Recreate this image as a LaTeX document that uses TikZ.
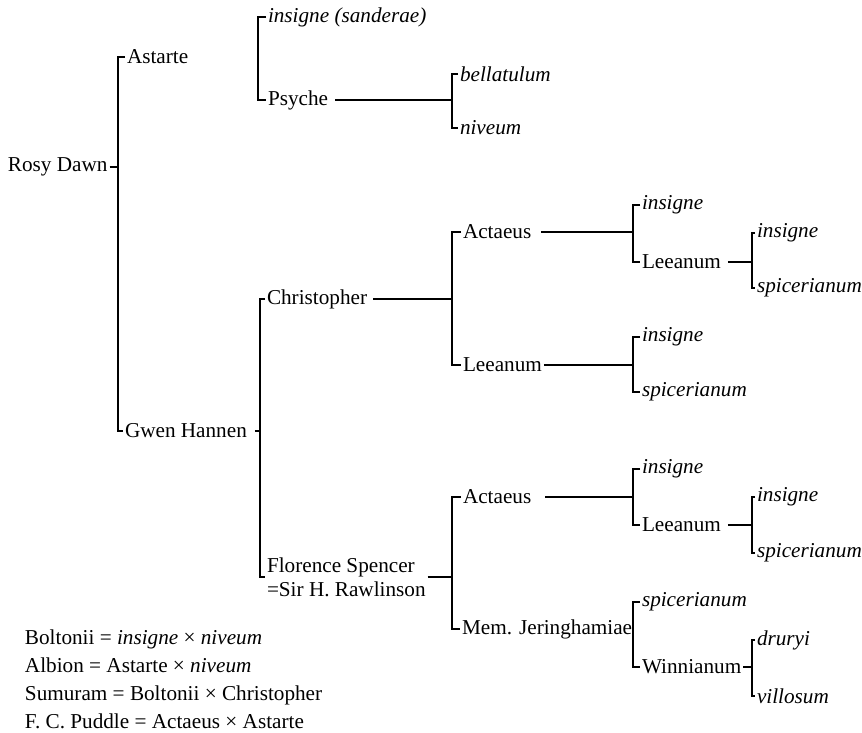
\documentclass[tikz,border=0pt]{standalone}
\usepackage{fontspec}
\setmainfont{Liberation Serif}
\begin{document}
\begin{tikzpicture}[x=0.5pt, y=-0.5pt, line width=0.8pt,
	every node/.style={anchor=west, inner sep=1pt, outer sep=0pt, font=\fontsize{10.6}{12}\selectfont},
	species/.style={font=\fontsize{10.6}{12}\selectfont\itshape}]
				\useasboundingbox (0,0) rectangle (862,733);
				% \draw[help lines, step=50] (0,0) grid (862,733);

				\node (rosy) at (6,167) {Rosy Dawn};
				\node (astarte) at (125,57) {Astarte};
				\node (gwen) at (123,431) {Gwen Hannen};
				\coordinate (jRosy) at (118,167);
				\draw (astarte.west) -| (jRosy) |- (gwen.west);
				\draw (rosy.east) -- (jRosy);

				% parents of Astarte
				\node[species] (sanderae) at (266,17) {insigne (sanderae)};
				\node (psyche) at (266,100) {Psyche};
				\coordinate (jAst) at (258,60);
				\draw (sanderae.west) -| (jAst) |- (psyche.west);

				\node[species] (bellatulum) at (458,74) {bellatulum};
				\node[species] (niveum) at (458,128) {niveum};
				\coordinate (jPsy) at (452,100);
				\draw (bellatulum.west) -| (jPsy) |- (niveum.west);
				\draw[shorten <=2.5pt] (psyche.east) -- (jPsy);

				% parents of Gwen Hannen
				\node (christopher) at (265,299) {Christopher};
				\node[align=left] (florence) at (265,577) {Florence Spencer\\=Sir H. Rawlinson};
				\coordinate (jGwen) at (260,431);
				\draw (christopher.west) -| (jGwen) |- (florence.west);
				\draw[shorten <=3pt] (gwen.east) -- (jGwen);

				\node (actaeusA) at (461,232) {Actaeus};
				\node (leeanumA) at (461,365) {Leeanum};
				\coordinate (jChr) at (452,299);
				\draw (actaeusA.west) -| (jChr) |- (leeanumA.west);
				\draw[shorten <=2pt] (christopher.east) -- (jChr);

				\node[species] (insigneA) at (640,205) {insigne};
				\node (leeanumB) at (640,262) {Leeanum};
				\coordinate (jActA) at (633,232);
				\draw (insigneA.west) -| (jActA) |- (leeanumB.west);
				\draw[shorten <=4pt] (actaeusA.east) -- (jActA);

				\node[species] (insigneB) at (755,233) {insigne};
				\node[species] (spiceB) at (755,288) {spicerianum};
				\coordinate (jLeeB) at (752,262);
				\draw (insigneB.west) -| (jLeeB) |- (spiceB.west);
				\draw[shorten <=2.5pt] (leeanumB.east) -- (jLeeB);

				\node[species] (insigneC) at (640,337) {insigne};
				\node[species] (spiceC) at (640,392) {spicerianum};
				\coordinate (jLeeA) at (633,365);
				\draw (insigneC.west) -| (jLeeA) |- (spiceC.west);
				\draw (leeanumA.east) -- (jLeeA);

				% parents of Florence Spencer
				\node (actaeusB) at (461,497) {Actaeus};
				\node (memjer) at (460,629) {Mem. Jeringhamiae};
				\coordinate (jFlo) at (452,577);
				\draw (actaeusB.west) -| (jFlo) |- (memjer.west);
				\draw (florence.east) -- (jFlo);

				\node[species] (insigneD) at (640,469) {insigne};
				\node (leeanumC) at (640,525) {Leeanum};
				\coordinate (jActB) at (633,497);
				\draw (insigneD.west) -| (jActB) |- (leeanumC.west);
				\draw[shorten <=6pt] (actaeusB.east) -- (jActB);

				\node[species] (insigneE) at (755,497) {insigne};
				\node[species] (spiceE) at (755,553) {spicerianum};
				\coordinate (jLeeC) at (752,525);
				\draw (insigneE.west) -| (jLeeC) |- (spiceE.west);
				\draw[shorten <=2.5pt] (leeanumC.east) -- (jLeeC);

				\node[species] (spiceF) at (640,602) {spicerianum};
				\node (winnianum) at (640,667) {Winnianum};
				\coordinate (jMem) at (633,635);
				\draw (spiceF.west) -| (jMem) |- (winnianum.west);

				\node[species] (druryi) at (755,640) {druryi};
				\node[species] (villosum) at (755,696) {villosum};
				\coordinate (jWin) at (752,667);
				\draw (druryi.west) -| (jWin) |- (villosum.west);
				\draw (winnianum.east) -- (jWin);

				% hybrids
				\node[align=left, font=\fontsize{10.6}{14}\selectfont] (hybrids) at (23,679) {Boltonii = \textit{insigne} × \textit{niveum}\\
					Albion = Astarte × \textit{niveum}\\
					Sumuram = Boltonii × Christopher\\
					F. C. Puddle = Actaeus × Astarte};
			\end{tikzpicture}
\end{document}
